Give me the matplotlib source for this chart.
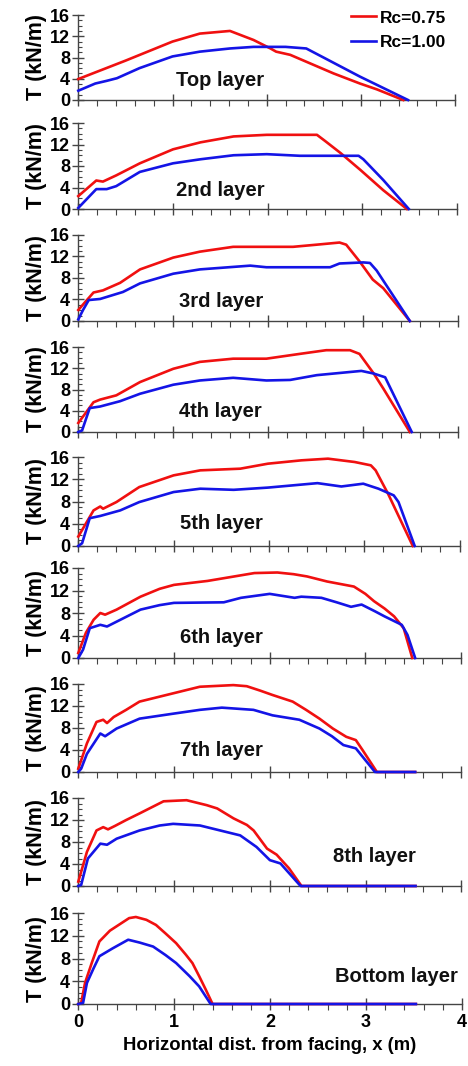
import matplotlib
matplotlib.use("Agg")
import matplotlib.pyplot as plt
from matplotlib.ticker import MultipleLocator
from matplotlib.lines import Line2D

plt.rcParams['font.family'] = ['Liberation Sans', 'DejaVu Sans']
plt.rcParams['font.weight'] = 'bold'

RED = '#f01010'
BLUE = '#1414e6'

layer_names = ["Top layer", "2nd layer", "3rd layer", "4th layer", "5th layer",
               "6th layer", "7th layer", "8th layer", "Bottom layer"]

# --- Rc = 0.75 (red) ---
top_red_x = [0, 0.5, 1.0, 1.29, 1.61, 1.86, 2.04, 2.1, 2.25, 2.46, 2.71, 2.99, 3.17, 3.45]
top_red_y = [3.95, 7.4, 11.0, 12.5, 13.0, 11.3, 9.7, 9.1, 8.5, 6.9, 5.0, 3.1, 2.0, 0]
l2_red_x = [0, 0.19, 0.26, 0.4, 0.65, 1.0, 1.29, 1.64, 1.99, 2.52, 2.61, 2.77, 2.98, 3.22, 3.47]
l2_red_y = [2.4, 5.3, 5.1, 6.25, 8.5, 11.1, 12.4, 13.5, 13.8, 13.8, 12.6, 10.4, 7.25, 3.5, 0]
l3_red_x = [0, 0.16, 0.26, 0.44, 0.65, 1.0, 1.28, 1.63, 2.26, 2.51, 2.75, 2.82, 2.96, 3.1, 3.21, 3.49]
l3_red_y = [2.05, 5.3, 5.7, 7.1, 9.6, 11.8, 12.9, 13.8, 13.8, 14.2, 14.6, 14.2, 11.1, 7.7, 6.1, 0]
l4_red_x = [0, 0.16, 0.23, 0.4, 0.65, 1.0, 1.28, 1.63, 1.98, 2.33, 2.61, 2.86, 2.96, 3.11, 3.21, 3.49]
l4_red_y = [1.7, 5.6, 6.1, 6.9, 9.4, 11.9, 13.2, 13.8, 13.8, 14.7, 15.4, 15.4, 14.7, 11.0, 8.2, 0]
l5_red_x = [0, 0.16, 0.23, 0.26, 0.4, 0.64, 1.0, 1.28, 1.7, 1.99, 2.34, 2.62, 2.9, 3.07, 3.12, 3.25, 3.51]
l5_red_y = [1.7, 6.4, 7.1, 6.7, 7.9, 10.6, 12.7, 13.6, 13.9, 14.8, 15.4, 15.7, 15.1, 14.5, 13.6, 9.4, 0]
l6_red_x = [0, 0.08, 0.16, 0.23, 0.28, 0.4, 0.65, 0.85, 1.0, 1.35, 1.63, 1.84, 2.08, 2.25, 2.39, 2.6,
            2.88, 3.0, 3.09, 3.2, 3.3, 3.4, 3.49]
l6_red_y = [0.9, 4.5, 6.8, 8.0, 7.7, 8.6, 10.9, 12.3, 13.0, 13.7, 14.5, 15.1, 15.2, 14.9, 14.5, 13.6,
            12.7, 11.4, 10.1, 8.8, 7.4, 5.3, 0]
l7_red_x = [0, 0.09, 0.19, 0.26, 0.3, 0.37, 0.5, 0.64, 0.85, 0.99, 1.27, 1.62, 1.76, 1.9, 2.03,
            2.24, 2.38, 2.52, 2.66, 2.8, 2.9, 2.97, 3.12, 3.52]
l7_red_y = [0.6, 5.2, 9.1, 9.5, 8.9, 10.0, 11.3, 12.8, 13.7, 14.3, 15.5, 15.8, 15.6, 14.8, 14.0,
            12.8, 11.3, 9.7, 7.9, 6.4, 5.8, 4.0, 0, 0]
l8_red_x = [0, 0.09, 0.19, 0.26, 0.31, 0.38, 0.5, 0.64, 0.89, 1.13, 1.34, 1.45, 1.62, 1.76, 1.83,
            1.97, 2.07, 2.2, 2.33, 3.52]
l8_red_y = [0.8, 6.2, 10.1, 10.7, 10.3, 10.9, 12.0, 13.2, 15.4, 15.6, 14.7, 14.1, 12.3, 11.1, 10.1,
            6.8, 5.7, 3.2, 0, 0]
bot_red_x = [0, 0.03, 0.07, 0.14, 0.22, 0.33, 0.43, 0.53, 0.6, 0.71, 0.81, 0.91, 1.02, 1.12, 1.19,
             1.26, 1.33, 1.4, 3.52]
bot_red_y = [0, 0.2, 3.7, 7.2, 11.0, 12.9, 14.0, 15.1, 15.3, 14.8, 13.9, 12.4, 10.7, 8.7, 7.2,
             4.9, 2.5, 0, 0]

# --- Rc = 1.00 (blue) ---
top_blue_x = [0, 0.18, 0.3, 0.41, 0.65, 1.0, 1.29, 1.61, 1.86, 2.2, 2.42, 2.99, 3.5]
top_blue_y = [1.75, 3.1, 3.6, 4.1, 6.0, 8.2, 9.1, 9.7, 10.0, 10.0, 9.7, 4.4, 0]
l2_blue_x = [0, 0.19, 0.3, 0.4, 0.65, 1.0, 1.29, 1.64, 1.99, 2.34, 2.96, 3.01, 3.22, 3.49]
l2_blue_y = [0.2, 3.7, 3.7, 4.25, 6.9, 8.5, 9.25, 10.0, 10.2, 9.9, 9.9, 9.25, 5.4, 0]
l3_blue_x = [0, 0.05, 0.11, 0.23, 0.47, 0.65, 1.0, 1.28, 1.81, 1.98, 2.65, 2.75, 3.0, 3.07, 3.14, 3.49]
l3_blue_y = [0.3, 2.05, 3.9, 4.1, 5.4, 7.0, 8.8, 9.6, 10.3, 10.0, 10.0, 10.7, 10.9, 10.8, 9.4, 0]
l4_blue_x = [0, 0.04, 0.12, 0.23, 0.44, 0.65, 1.0, 1.28, 1.63, 1.98, 2.23, 2.51, 2.98, 3.11, 3.23, 3.51]
l4_blue_y = [0, 0.3, 4.5, 4.8, 5.8, 7.2, 8.9, 9.7, 10.2, 9.7, 9.8, 10.7, 11.5, 11.0, 10.3, 0]
l5_blue_x = [0, 0.04, 0.12, 0.23, 0.44, 0.64, 1.0, 1.28, 1.63, 1.99, 2.51, 2.76, 2.99, 3.15, 3.31, 3.36, 3.53]
l5_blue_y = [0, 0.5, 5.0, 5.4, 6.4, 7.9, 9.7, 10.3, 10.1, 10.5, 11.3, 10.7, 11.2, 10.3, 9.1, 7.9, 0]
l6_blue_x = [0, 0.05, 0.12, 0.23, 0.3, 0.44, 0.65, 0.85, 1.0, 1.52, 1.7, 2.0, 2.26, 2.33, 2.54, 2.7,
             2.85, 2.96, 3.1, 3.2, 3.38, 3.44, 3.52]
l6_blue_y = [0, 1.5, 5.3, 5.9, 5.6, 6.8, 8.6, 9.4, 9.8, 9.9, 10.7, 11.4, 10.7, 10.9, 10.7, 9.9,
             9.1, 9.5, 8.3, 7.4, 5.9, 4.1, 0]
l7_blue_x = [0, 0.03, 0.09, 0.23, 0.28, 0.4, 0.64, 0.99, 1.27, 1.5, 1.83, 2.03, 2.31, 2.52, 2.65,
             2.77, 2.9, 3.1, 3.52]
l7_blue_y = [0, 0.6, 3.3, 7.0, 6.5, 7.9, 9.7, 10.6, 11.3, 11.7, 11.3, 10.3, 9.5, 7.9, 6.5,
             4.9, 4.3, 0, 0]
l8_blue_x = [0, 0.03, 0.1, 0.23, 0.3, 0.4, 0.64, 0.85, 0.99, 1.27, 1.48, 1.69, 1.86, 2.0, 2.11,
             2.32, 3.52]
l8_blue_y = [0, 0.2, 5.0, 7.7, 7.5, 8.6, 10.1, 11.0, 11.3, 11.0, 10.1, 9.2, 7.1, 4.7, 4.1,
             0, 0]
bot_blue_x = [0, 0.05, 0.09, 0.16, 0.22, 0.36, 0.52, 0.64, 0.78, 0.91, 1.02, 1.16, 1.26, 1.38, 3.52]
bot_blue_y = [0, 0.2, 3.7, 6.3, 8.4, 9.8, 11.3, 10.8, 10.1, 8.6, 7.2, 4.9, 3.1, 0, 0]

red_series = [(top_red_x, top_red_y), (l2_red_x, l2_red_y), (l3_red_x, l3_red_y),
              (l4_red_x, l4_red_y), (l5_red_x, l5_red_y), (l6_red_x, l6_red_y),
              (l7_red_x, l7_red_y), (l8_red_x, l8_red_y), (bot_red_x, bot_red_y)]
blue_series = [(top_blue_x, top_blue_y), (l2_blue_x, l2_blue_y), (l3_blue_x, l3_blue_y),
               (l4_blue_x, l4_blue_y), (l5_blue_x, l5_blue_y), (l6_blue_x, l6_blue_y),
               (l7_blue_x, l7_blue_y), (l8_blue_x, l8_blue_y), (bot_blue_x, bot_blue_y)]

label_pos = [(1.5, 3.6), (1.5, 3.5), (1.5, 3.6), (1.5, 3.8), (1.5, 4.1),
             (1.5, 3.6), (1.5, 4.0), (3.09, 5.3), (3.32, 4.9)]

x_ticks = [0, 1, 2, 3, 4]
y_ticks = [0, 4, 8, 12, 16]

W, H = 468, 1066
fig = plt.figure(figsize=(W / 100, H / 100), dpi=100)

panel_px = [(15, 100), (123, 209), (235, 321), (347, 432), (457, 546),
            (568, 658), (684, 772), (798, 886), (913, 1004)]
scale_px = [94.2, 94.7, 95.0, 95.0, 95.3, 95.7, 95.7, 95.8, 95.9]
left_px = 78.3
AX = '#444444'

for i, ((tp, bp), s) in enumerate(zip(panel_px, scale_px)):
    ax = fig.add_axes([left_px / W, 1 - bp / H, 4 * s / W, (bp - tp) / H])
    rx, ry = red_series[i]
    bx, by = blue_series[i]
    ax.plot(rx, ry, color=RED, lw=1.9, clip_on=False, zorder=3)
    ax.plot(bx, by, color=BLUE, lw=1.9, clip_on=False, zorder=4)
    ax.set_xlim(0, 4)
    ax.set_ylim(0, 16)
    for sp in ['top', 'right']:
        ax.spines[sp].set_visible(False)
    for sp in ['left', 'bottom']:
        ax.spines[sp].set_color(AX)
        ax.spines[sp].set_linewidth(1.0)
    ax.set_xticks(x_ticks)
    ax.set_yticks(y_ticks)
    ax.xaxis.set_minor_locator(MultipleLocator(0.2))
    ax.yaxis.set_minor_locator(MultipleLocator(1))
    ax.tick_params(axis='x', which='major', direction='inout', length=9, width=1.0, color=AX)
    ax.tick_params(axis='x', which='minor', direction='out', length=4, width=0.8, color=AX)
    ax.tick_params(axis='y', which='major', direction='inout', length=8, width=1.0, color=AX,
                   labelsize=13, pad=2)
    ax.tick_params(axis='y', which='minor', direction='in', length=3, width=0.8, color=AX)
    for lab in ax.get_yticklabels():
        lab.set_fontweight('bold')
    if i < 8:
        ax.set_xticklabels([])
    else:
        ax.tick_params(axis='x', labelsize=13, pad=3)
        for lab in ax.get_xticklabels():
            lab.set_fontweight('bold')
        ax.set_xlabel("Horizontal dist. from facing, x (m)", fontsize=13.3,
                      fontweight='bold', labelpad=4)
    ax.set_ylabel("T (kN/m)", fontsize=15.5, fontweight='bold', labelpad=2)
    lx, ly = label_pos[i]
    ax.text(lx, ly, layer_names[i], fontsize=14.5, fontweight='bold',
            ha='center', va='center', color='#111111')

handles = [Line2D([], [], color=RED, lw=1.9), Line2D([], [], color=BLUE, lw=1.9)]
fig.legend(handles, ["Rc=0.75", "Rc=1.00"], loc='upper right',
           bbox_to_anchor=(457 / W, 1 - 0 / H), frameon=False,
           prop={'size': 12.5, 'weight': 'bold'}, handlelength=1.45,
           handletextpad=0.25, labelspacing=0.55, borderpad=0.1)

fig.savefig("out.png", dpi=100)
